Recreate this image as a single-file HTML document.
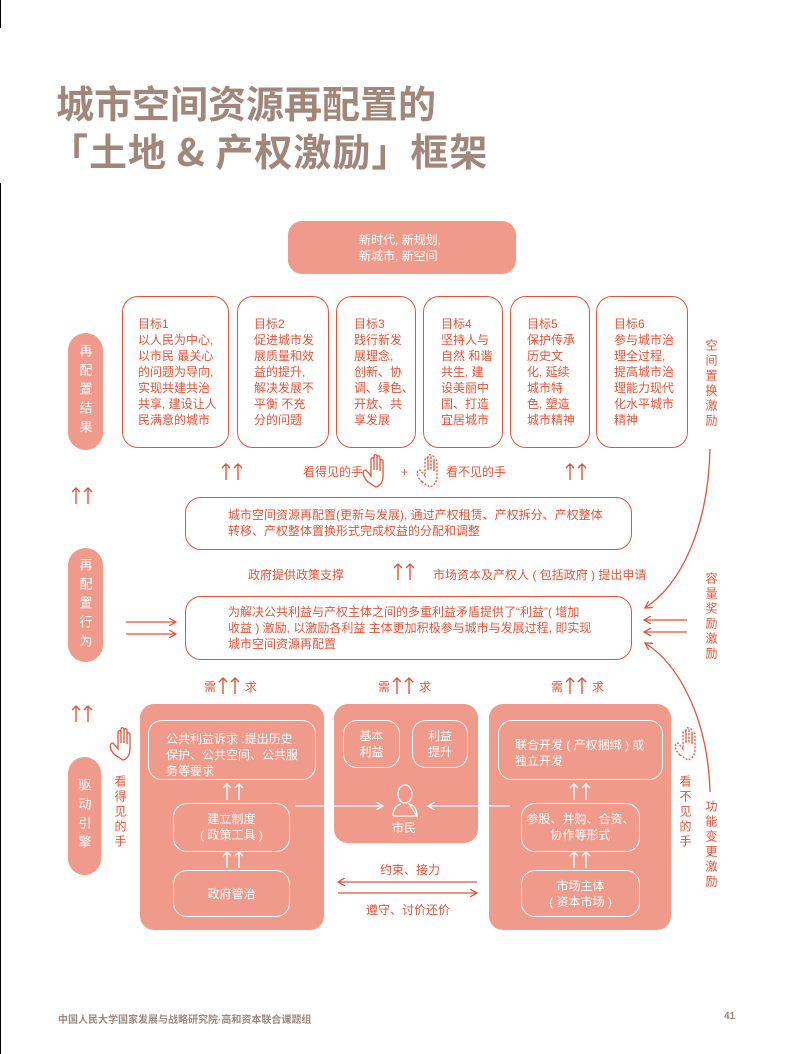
<!DOCTYPE html>
<html><head><meta charset="utf-8">
<style>
html,body{margin:0;padding:0;background:#fff;}
body{width:793px;height:1054px;position:relative;overflow:hidden;font-family:"Liberation Sans","Noto Sans CJK SC",sans-serif;}
.a{position:absolute;}
.t{position:absolute;color:#e0553a;font-size:12px;line-height:16px;white-space:nowrap;}
.w{position:absolute;color:#fff;font-size:12px;line-height:16px;white-space:nowrap;}
.box{position:absolute;border:1.5px solid #e0553a;border-radius:16px;box-sizing:border-box;background:#fff;}
.fill{position:absolute;background:#ef9a8a;border-radius:14px;}
.ib{position:absolute;border:1.5px solid #fff;border-radius:14px;box-sizing:border-box;}
.pill{position:absolute;background:#ef9a8a;border-radius:18px;color:#fff;font-size:13px;line-height:18px;text-align:center;writing-mode:vertical-rl;text-orientation:upright;letter-spacing:6px;display:flex;align-items:center;justify-content:center;font-family:"Noto Sans CJK SC",sans-serif;}
.v{position:absolute;color:#e0553a;font-size:12px;line-height:16px;writing-mode:vertical-rl;text-orientation:upright;letter-spacing:3px;font-family:"Noto Sans CJK SC",sans-serif;}
.title{position:absolute;left:56px;color:#a0877a;font-size:38px;font-weight:bold;line-height:44px;white-space:nowrap;font-family:"Noto Sans CJK SC",sans-serif;}
</style></head><body>
<div class="a" style="left:0;top:0;width:1px;height:28px;background:#000"></div>
<div class="a" style="left:0;top:183px;width:1px;height:871px;background:#000"></div>

<div class="title" style="top:80px">城市空间资源再配置的</div>
<div class="title" style="top:128px;left:50px;letter-spacing:1px">「土地 &amp; 产权激励」框架</div>

<div class="fill" style="left:288px;top:221px;width:228px;height:53px"></div>
<div class="w" style="left:359px;top:232px">新时代, 新规划,<br>新城市, 新空间</div>

<div class="box" style="left:122px;top:296px;width:107px;height:152px"></div>
<div class="t" style="left:138px;top:316px">目标1<br>以人民为中心,<br>以市民 最关心<br>的问题为导向,<br>实现共建共治<br>共享, 建设让人<br>民满意的城市</div>
<div class="box" style="left:237px;top:296px;width:92px;height:152px"></div>
<div class="t" style="left:254px;top:316px">目标2<br>促进城市发<br>展质量和效<br>益的提升,<br>解决发展不<br>平衡 不充<br>分的问题</div>
<div class="box" style="left:336px;top:296px;width:80px;height:152px"></div>
<div class="t" style="left:354px;top:316px">目标3<br>践行新发<br>展理念,<br>创新、协<br>调、绿色、<br>开放、共<br>享发展</div>
<div class="box" style="left:423px;top:296px;width:80px;height:152px"></div>
<div class="t" style="left:441px;top:316px">目标4<br>坚持人与<br>自然 和谐<br>共生, 建<br>设美丽中<br>国、打造<br>宜居城市</div>
<div class="box" style="left:510px;top:296px;width:80px;height:152px"></div>
<div class="t" style="left:527px;top:316px">目标5<br>保护传承<br>历史文<br>化, 延续<br>城市特<br>色, 塑造<br>城市精神</div>
<div class="box" style="left:596px;top:296px;width:92px;height:152px"></div>
<div class="t" style="left:614px;top:316px">目标6<br>参与城市治<br>理全过程,<br>提高城市治<br>理能力现代<br>化水平城市<br>精神</div>

<div class="pill" style="left:68px;top:333px;width:35px;height:117px">再配置结果</div>
<div class="pill" style="left:68px;top:548px;width:35px;height:114px">再配置行为</div>
<div class="pill" style="left:68px;top:757px;width:33px;height:118px">驱动引擎</div>

<div class="v" style="left:703px;top:339px">空间置换激励</div>
<div class="v" style="left:703px;top:572px">容量奖励激励</div>
<div class="v" style="left:703px;top:800px">功能变更激励</div>

<div class="t" style="left:303px;top:464px">看得见的手</div>
<div class="t" style="left:401px;top:464px">+</div>
<div class="t" style="left:446px;top:464px">看不见的手</div>

<div class="box" style="left:185px;top:497px;width:447px;height:53px"></div>
<div class="t" style="left:228px;top:507px">城市空间资源再配置(更新与发展), 通过产权租赁、产权拆分、产权整体<br>转移、产权整体置换形式完成权益的分配和调整</div>

<div class="t" style="left:248px;top:567px">政府提供政策支撑</div>
<div class="t" style="left:433px;top:567px">市场资本及产权人 ( 包括政府 ) 提出申请</div>

<div class="box" style="left:185px;top:596px;width:447px;height:64px"></div>
<div class="t" style="left:228px;top:604px">为解决公共利益与产权主体之间的多重利益矛盾提供了“利益”( 增加<br>收益 ) 激励, 以激励各利益 主体更加积极参与城市与发展过程, 即实现<br>城市空间资源再配置</div>

<div class="t" style="left:204px;top:679px">需</div><div class="t" style="left:245px;top:679px">求</div>
<div class="t" style="left:378px;top:679px">需</div><div class="t" style="left:419px;top:679px">求</div>
<div class="t" style="left:551px;top:679px">需</div><div class="t" style="left:592px;top:679px">求</div>

<div class="fill" style="left:140px;top:704px;width:184px;height:226px"></div>
<div class="fill" style="left:334px;top:704px;width:144px;height:139px"></div>
<div class="fill" style="left:489px;top:704px;width:182px;height:226px"></div>

<div class="ib" style="left:148px;top:720px;width:168px;height:60px"></div>
<div class="w" style="left:166px;top:731px">公共利益诉求 :提出历史<br>保护、公共空间、公共服<br>务等要求</div>
<div class="ib" style="left:173px;top:803px;width:117px;height:49px"></div>
<div class="w" style="left:173px;top:811px;width:117px;text-align:center">建立制度<br>( 政策工具 )</div>
<div class="ib" style="left:173px;top:870px;width:117px;height:47px"></div>
<div class="w" style="left:173px;top:886px;width:117px;text-align:center">政府管治</div>

<div class="ib" style="left:343px;top:720px;width:57px;height:48px"></div>
<div class="w" style="left:343px;top:728px;width:57px;text-align:center">基本<br>利益</div>
<div class="ib" style="left:412px;top:720px;width:56px;height:48px"></div>
<div class="w" style="left:412px;top:728px;width:56px;text-align:center">利益<br>提升</div>
<div class="w" style="left:392px;top:820px">市民</div>

<div class="ib" style="left:498px;top:720px;width:165px;height:60px"></div>
<div class="w" style="left:515px;top:737px">联合开发 ( 产权捆绑 ) 或<br>独立开发</div>
<div class="ib" style="left:521px;top:803px;width:119px;height:49px"></div>
<div class="w" style="left:521px;top:811px;width:119px;text-align:center">参股、并购、合资、<br>协作等形式</div>
<div class="ib" style="left:521px;top:870px;width:119px;height:47px"></div>
<div class="w" style="left:521px;top:878px;width:119px;text-align:center">市场主体<br>( 资本市场 )</div>

<div class="t" style="left:380px;top:862px">约束、接力</div>
<div class="t" style="left:366px;top:902px">遵守、讨价还价</div>

<div class="v" style="left:112px;top:775px">看得见的手</div>
<div class="v" style="left:677px;top:775px">看不见的手</div>

<svg class="a" style="left:0;top:0" width="793" height="1054" viewBox="0 0 793 1054">
<defs>
<marker id="ar" markerWidth="8" markerHeight="8" refX="7" refY="4" orient="auto" markerUnits="userSpaceOnUse"><path d="M0,0 L7,4 L0,8" fill="none" stroke="#e0553a" stroke-width="1.3"/></marker>
<marker id="aw" markerWidth="8" markerHeight="8" refX="7" refY="4" orient="auto" markerUnits="userSpaceOnUse"><path d="M0,0 L7,4 L0,8" fill="none" stroke="#fff" stroke-width="1.3"/></marker>
<g id="up2"><path d="M0,8 V-8 M-4,-4 L0,-8 L4,-4 M12,8 V-8 M8,-4 L12,-8 L16,-4" fill="none" stroke-width="1.4"/></g>
</defs>
<g stroke="#e0553a">
<use href="#up2" x="76" y="496"/>
<use href="#up2" x="76" y="714"/>
<use href="#up2" x="226" y="472"/>
<use href="#up2" x="570" y="472"/>
<use href="#up2" x="398" y="572"/>
<use href="#up2" x="223" y="686"/>
<use href="#up2" x="397" y="686"/>
<use href="#up2" x="570" y="686"/>
</g>
<g stroke="#fff">
<use href="#up2" x="227" y="792"/>
<use href="#up2" x="227" y="860"/>
<use href="#up2" x="574" y="792"/>
<use href="#up2" x="574" y="860"/>
</g>
<g stroke="#e0553a" stroke-width="1.3" fill="none">
<line x1="126" y1="622" x2="176" y2="622" marker-end="url(#ar)"/>
<line x1="126" y1="634" x2="176" y2="634" marker-end="url(#ar)"/>
<line x1="687" y1="620" x2="644" y2="620" marker-end="url(#ar)"/>
<line x1="687" y1="632" x2="644" y2="632" marker-end="url(#ar)"/>
<path d="M710,449 C708,530 680,585 645,608" marker-end="url(#ar)"/>
<path d="M710,792 C708,720 680,665 645,643" marker-end="url(#ar)"/>
<line x1="477" y1="882" x2="338" y2="882" marker-end="url(#ar)"/>
<line x1="338" y1="893" x2="477" y2="893" marker-end="url(#ar)"/>
<path d="M368,482 C362,476 362,470 366,470 L371,476 L371,460 C371,457 374,457 374,460 L374,470 L374,457 C374,454 377,454 377,457 L377,470 L377,458 C377,455 380,455 380,458 L380,471 L380,462 C380,459 383,459 383,462 L383,476 C383,482 380,486 376,487 Z"/>
<path d="M422,482 C416,476 416,470 420,470 L425,476 L425,460 C425,457 428,457 428,460 L428,470 L428,457 C428,454 431,454 431,457 L431,470 L431,458 C431,455 434,455 434,458 L434,471 L434,462 C434,459 437,459 437,462 L437,476 C437,482 434,486 430,487 Z" stroke-dasharray="2 1.5"/>
<path d="M115,755 C109,749 109,743 113,743 L118,749 L118,733 C118,730 121,730 121,733 L121,743 L121,730 C121,727 124,727 124,730 L124,743 L124,731 C124,728 127,728 127,731 L127,744 L127,735 C127,732 130,732 130,735 L130,749 C130,755 127,759 123,760 Z"/>
<path d="M680,755 C674,749 674,743 678,743 L683,749 L683,733 C683,730 686,730 686,733 L686,743 L686,730 C686,727 689,727 689,730 L689,743 L689,731 C689,728 692,728 692,731 L692,744 L692,735 C692,732 695,732 695,735 L695,749 C695,755 692,759 688,760 Z" stroke-dasharray="2 1.5"/>
</g>
<g stroke="#fff" stroke-width="1.3" fill="none">
<line x1="295" y1="806" x2="383" y2="806" marker-end="url(#aw)"/>
<line x1="510" y1="806" x2="428" y2="806" marker-end="url(#aw)"/>
<ellipse cx="405" cy="794" rx="7" ry="9"/>
<path d="M393,816 C393,807 398,805 401,804 M409,804 C412,805 417,807 417,816 Z M393,816 L417,816"/>
</g>
</svg>

<div class="a" style="left:58px;top:1011px;font-size:10px;font-weight:bold;color:#9a8a80;white-space:nowrap">中国人民大学国家发展与战略研究院·高和资本联合课题组</div>
<div class="a" style="left:724px;top:1011px;font-size:10px;font-weight:bold;color:#9a8a80">41</div>
</body></html>
